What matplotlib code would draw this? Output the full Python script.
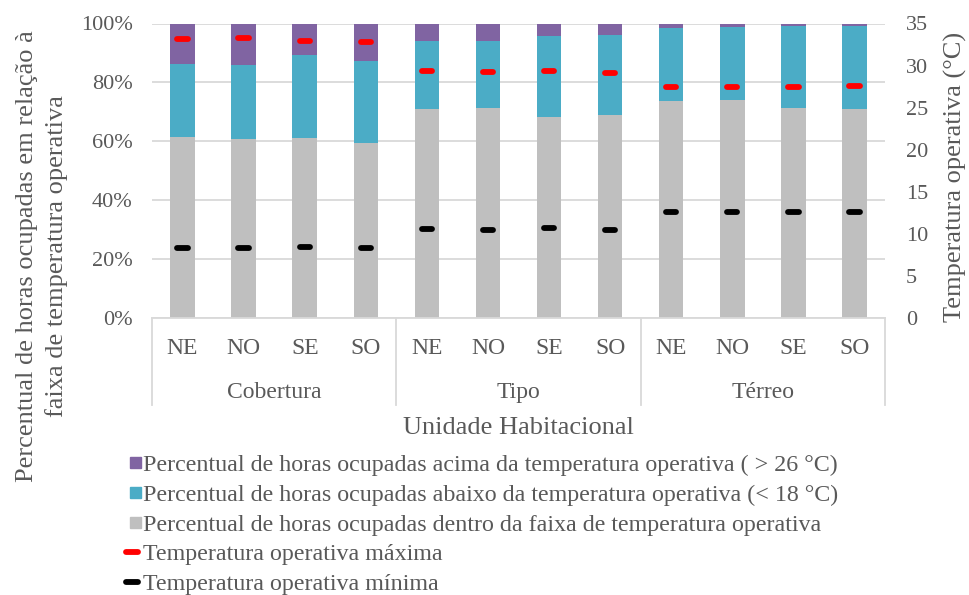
import matplotlib
matplotlib.use("Agg")
import matplotlib.pyplot as plt
from matplotlib.patches import Rectangle
from matplotlib.lines import Line2D
from matplotlib.legend_handler import HandlerPatch, HandlerLine2D

plt.rcParams['font.family'] = ['Liberation Serif', 'DejaVu Serif']

# Data
groups = ["Cobertura", "Tipo", "Térreo"]
orientations = ["NE", "NO", "SE", "SO"]
pct_dentro = [61.4, 60.9, 61.1, 59.5, 71.0, 71.4, 68.1, 69.0, 73.8, 74.0, 71.4, 71.0]
pct_abaixo = [24.8, 24.9, 28.2, 27.8, 23.2, 22.8, 27.5, 27.1, 24.8, 24.9, 27.8, 28.2]
pct_acima = [13.8, 14.2, 10.7, 12.7, 5.8, 5.8, 4.4, 3.9, 1.4, 1.1, 0.8, 0.8]
temp_max = [33.1, 33.3, 32.9, 32.8, 29.35, 29.2, 29.35, 29.15, 27.4, 27.5, 27.45, 27.6]
temp_min = [8.35, 8.35, 8.45, 8.3, 10.6, 10.5, 10.65, 10.45, 12.55, 12.55, 12.55, 12.55]

C_GRAY = "#BFBFBF"
C_CYAN = "#4BACC6"
C_PURPLE = "#8064A2"
TXT = "#595959"
GRID = "#D9D9D9"
FS_Y = 16.0      # value axes tick labels
FS_X = 17.0      # category labels
FS_TITLE = 19.0  # axis titles
FS_LEG = 17.3    # legend entries

n = len(pct_dentro)
x = [i + 0.5 for i in range(n)]
dentro = [v / 100 for v in pct_dentro]
abaixo = [v / 100 for v in pct_abaixo]
acima = [v / 100 for v in pct_acima]
bottom2 = [a + b for a, b in zip(dentro, abaixo)]

fig = plt.figure(figsize=(9.7, 5.95), dpi=100)
ax = fig.add_axes([152 / 970, 1 - 318 / 595, (885 - 152) / 970, (318 - 23.5) / 595])

w = 0.4
ax.bar(x, dentro, w, color=C_GRAY, zorder=2)
ax.bar(x, abaixo, w, bottom=dentro, color=C_CYAN, zorder=2)
ax.bar(x, acima, w, bottom=bottom2, color=C_PURPLE, zorder=2)

ax.set_xlim(0, n)
ax.set_ylim(0, 1)
ax.set_yticks([0, 0.2, 0.4, 0.6, 0.8, 1.0])
ax.set_yticklabels(["0%", "20%", "40%", "60%", "80%", "100%"])
ax.yaxis.grid(True, color=GRID, lw=1.3, zorder=0)
ax.set_axisbelow(True)
for s in ["top", "right", "left"]:
    ax.spines[s].set_visible(False)
ax.spines["bottom"].set_color(GRID)
ax.spines["bottom"].set_linewidth(1.3)
ax.tick_params(axis="y", length=0, pad=14, labelsize=FS_Y, labelcolor=TXT)
ax.set_xticks(x)
ax.set_xticklabels(orientations * len(groups))
ax.tick_params(axis="x", length=0, pad=14.5, labelsize=FS_X, labelcolor=TXT)

# Group separators and group labels below the category labels
for k in range(len(groups) + 1):
    ax.plot([4 * k, 4 * k], [0, -0.295], color=GRID, lw=1.3,
            transform=ax.get_xaxis_transform(), clip_on=False)
for k, g in enumerate(groups):
    ax.text(4 * k + 2, -0.252, g, transform=ax.get_xaxis_transform(),
            ha="center", va="center", fontsize=FS_X, color=TXT)
ax.text(0.5, -0.372, "Unidade Habitacional", transform=ax.transAxes,
        ha="center", va="center", fontsize=FS_TITLE, color=TXT)

# Secondary axis: operative temperature
ax2 = ax.twinx()
ax2.set_ylim(0, 35)
ax2.set_yticks(range(0, 36, 5))
for s in ["top", "right", "left", "bottom"]:
    ax2.spines[s].set_visible(False)
ax2.tick_params(axis="y", length=0, pad=15, labelsize=FS_Y, labelcolor=TXT)
dh = 0.085
ax2.hlines(temp_max, [v - dh for v in x], [v + dh for v in x], colors="#FF0000",
           lw=4.2, capstyle="round", zorder=3)
ax2.hlines(temp_min, [v - dh for v in x], [v + dh for v in x], colors="#000000",
           lw=4.2, capstyle="round", zorder=3)

# Axis titles
fig.text(27 / 970, 1 - 256 / 595, "Percentual de horas ocupadas em relação à",
         rotation=90, ha="center", va="center", fontsize=FS_TITLE, color=TXT)
fig.text(57 / 970, 1 - 256 / 595, "faixa de temperatura operativa",
         rotation=90, ha="center", va="center", fontsize=FS_TITLE, color=TXT)
fig.text(955 / 970, 1 - 177 / 595, "Temperatura operativa (°C)",
         rotation=90, ha="center", va="center", fontsize=FS_TITLE, color=TXT)


# Legend
def square_patch(legend, orig_handle, xdescent, ydescent, width, height, fontsize):
    s = 0.46 * fontsize
    return Rectangle((-xdescent + width - s, -ydescent + (height - s) / 2), s, s)


class RoundLine(HandlerLine2D):
    def create_artists(self, legend, orig_handle, xdescent, ydescent, width, height,
                       fontsize, trans):
        y = height / 2 - ydescent
        line = Line2D([-xdescent + 2, -xdescent + width - 2], [y, y],
                      color=orig_handle.get_color(), lw=orig_handle.get_linewidth(),
                      solid_capstyle="round", transform=trans)
        return [line]


handles = [
    Rectangle((0, 0), 1, 1, color=C_PURPLE),
    Rectangle((0, 0), 1, 1, color=C_CYAN),
    Rectangle((0, 0), 1, 1, color=C_GRAY),
    Line2D([], [], color="#FF0000", lw=4.2),
    Line2D([], [], color="#000000", lw=4.2),
]
labels = [
    "Percentual de horas ocupadas acima da temperatura operativa ( > 26 °C)",
    "Percentual de horas ocupadas abaixo da temperatura operativa (< 18 °C)",
    "Percentual de horas ocupadas dentro da faixa de temperatura operativa",
    "Temperatura operativa máxima",
    "Temperatura operativa mínima",
]
hm = {Rectangle: HandlerPatch(patch_func=square_patch)}
for h in handles[3:]:
    hm[h] = RoundLine()
leg = fig.legend(handles, labels, loc="upper left", bbox_to_anchor=(123 / 970, 1 - 454 / 595),
                 frameon=False, fontsize=FS_LEG, handlelength=0.75, handletextpad=0.1,
                 labelspacing=0.335, borderpad=0, borderaxespad=0, handler_map=hm)
for t in leg.get_texts():
    t.set_color(TXT)

fig.savefig("out.png", dpi=100)
